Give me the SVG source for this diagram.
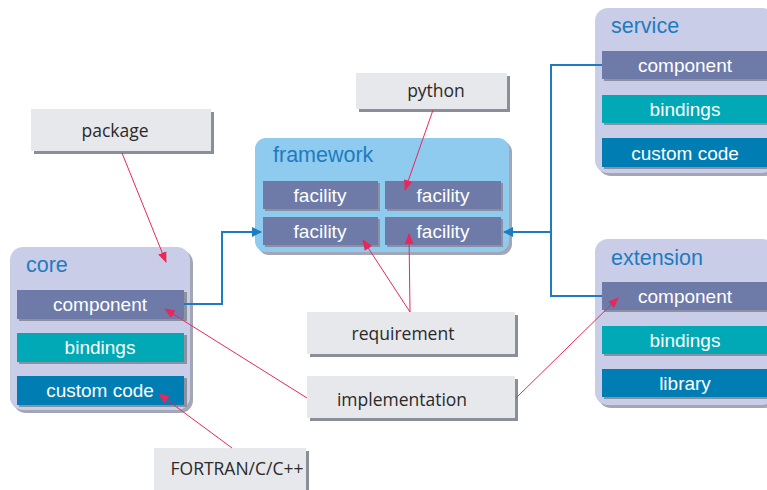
<svg xmlns="http://www.w3.org/2000/svg" width="767" height="490" viewBox="0 0 767 490">
<defs>
<style>
.csh{fill:#a3a6b5}
.cont{fill:#c9cde7}
.fw{fill:#8ecbee}
.ttl{font-family:"Liberation Sans",Arial,sans-serif;font-size:21.5px;fill:#1f7bc0}
.bsh{fill:#8d909e}
.comp{fill:#6e7ba9}
.bind{fill:#00a9b5}
.cust{fill:#007db3}
.bl{font-family:"Liberation Sans",Arial,sans-serif;font-size:19px;fill:#ffffff;text-anchor:middle}
.nsh{fill:#8a8e98}
.note{fill:#e7e8ec}
.nl{font-family:"Open Sans","Liberation Sans",sans-serif;font-size:17.5px;fill:#2a2a2a;text-anchor:middle}
.blue{fill:none;stroke:#1f7bc0;stroke-width:2}
.red{fill:none;stroke:#e8285a;stroke-width:1}
</style>
<marker id="ab" viewBox="0 0 10 10" refX="9" refY="5" markerWidth="5" markerHeight="5" orient="auto" markerUnits="strokeWidth"><path d="M0,0 L10,5 L0,10 z" fill="#1f7bc0"/></marker>
<marker id="ar" viewBox="0 0 10 10" refX="9" refY="5" markerWidth="11" markerHeight="11" orient="auto" markerUnits="strokeWidth"><path d="M0,1 L10,5 L0,9 z" fill="#e8285a"/></marker>
</defs>

<g id="core">
<rect class="csh" x="13" y="250" width="180" height="163" rx="13"/>
<rect class="cont" x="10" y="247" width="180" height="163" rx="13"/>
<text class="ttl" x="26" y="272">core</text>
<rect class="bsh" x="19" y="292" width="168" height="29"/>
<rect class="comp" x="17" y="290" width="167" height="29"/>
<text class="bl" x="100" y="311">component</text>
<rect class="bsh" x="19" y="335" width="168" height="29"/>
<rect class="bind" x="17" y="333" width="167" height="29"/>
<text class="bl" x="100" y="354">bindings</text>
<rect class="bsh" x="19" y="378" width="168" height="29"/>
<rect class="cust" x="17" y="376" width="167" height="29"/>
<text class="bl" x="100" y="397">custom code</text>
</g>

<g id="framework">
<rect class="csh" x="258" y="141" width="254" height="114" rx="11"/>
<rect class="fw" x="255" y="138" width="254" height="114" rx="11"/>
<text class="ttl" x="273" y="162">framework</text>
<rect class="bsh" x="265" y="183" width="115" height="28"/>
<rect class="comp" x="263" y="181" width="115" height="28"/>
<text class="bl" x="320" y="202">facility</text>
<rect class="bsh" x="387" y="183" width="116" height="28"/>
<rect class="comp" x="385" y="181" width="116" height="28"/>
<text class="bl" x="443" y="202">facility</text>
<rect class="bsh" x="265" y="219" width="115" height="28"/>
<rect class="comp" x="263" y="217" width="115" height="28"/>
<text class="bl" x="320" y="238">facility</text>
<rect class="bsh" x="387" y="219" width="116" height="28"/>
<rect class="comp" x="385" y="217" width="116" height="28"/>
<text class="bl" x="443" y="238">facility</text>
</g>

<g id="service">
<rect class="csh" x="598" y="11" width="180" height="165" rx="13"/>
<rect class="cont" x="595" y="8" width="180" height="165" rx="13"/>
<text class="ttl" x="611" y="33">service</text>
<rect class="bsh" x="604" y="53" width="170" height="28"/>
<rect class="comp" x="602" y="51" width="170" height="28"/>
<text class="bl" x="685" y="72">component</text>
<rect class="bsh" x="604" y="97" width="170" height="28"/>
<rect class="bind" x="602" y="95" width="170" height="28"/>
<text class="bl" x="685" y="116">bindings</text>
<rect class="bsh" x="604" y="140" width="170" height="29"/>
<rect class="cust" x="602" y="138" width="170" height="29"/>
<text class="bl" x="685" y="160">custom code</text>
</g>

<g id="extension">
<rect class="csh" x="598" y="242" width="180" height="166" rx="13"/>
<rect class="cont" x="595" y="239" width="180" height="166" rx="13"/>
<text class="ttl" x="611" y="265">extension</text>
<rect class="bsh" x="604" y="284" width="170" height="28"/>
<rect class="comp" x="602" y="282" width="170" height="28"/>
<text class="bl" x="685" y="303">component</text>
<rect class="bsh" x="604" y="328" width="170" height="28"/>
<rect class="bind" x="602" y="326" width="170" height="28"/>
<text class="bl" x="685" y="347">bindings</text>
<rect class="bsh" x="604" y="371" width="170" height="28"/>
<rect class="cust" x="602" y="369" width="170" height="28"/>
<text class="bl" x="685" y="390">library</text>
</g>

<g id="package">
<rect class="nsh" x="34" y="112" width="180" height="42"/>
<rect class="note" x="31" y="109" width="180" height="42"/>
<text class="nl" x="115" y="137">package</text>
</g>

<g id="python">
<rect class="nsh" x="359" y="76" width="151" height="36"/>
<rect class="note" x="356" y="73" width="151" height="36"/>
<text class="nl" x="436" y="97">python</text>
</g>

<g id="requirement">
<rect class="nsh" x="310" y="315" width="208" height="42"/>
<rect class="note" x="307" y="312" width="208" height="42"/>
<text class="nl" x="403" y="340">requirement</text>
</g>

<g id="implementation">
<rect class="nsh" x="310" y="379" width="208" height="42"/>
<rect class="note" x="307" y="376" width="208" height="42"/>
<text class="nl" x="402" y="406">implementation</text>
</g>

<g id="fortran">
<rect class="nsh" x="157" y="451" width="152" height="42"/>
<rect class="note" x="154" y="448" width="152" height="42"/>
<text class="nl" x="237" y="475">FORTRAN/C/C++</text>
</g>

<g id="connectors">
<path class="blue" d="M184,304 H222 V232 H261" marker-end="url(#ab)"/>
<path class="blue" d="M602,65 H551 V296 H602"/>
<path class="blue" d="M551,232 H504" marker-end="url(#ab)"/>
<path class="red" d="M122,153 L166,262" marker-end="url(#ar)"/>
<path class="red" d="M433,110 L405,190" marker-end="url(#ar)"/>
<path class="red" d="M410,312 L363,240" marker-end="url(#ar)"/>
<path class="red" d="M410,312 L409,234" marker-end="url(#ar)"/>
<path class="red" d="M307,398 L165,309" marker-end="url(#ar)"/>
<path class="red" d="M516,398 L618,298" marker-end="url(#ar)"/>
<path class="red" d="M232,448 L159,394" marker-end="url(#ar)"/>
</g>
</svg>
